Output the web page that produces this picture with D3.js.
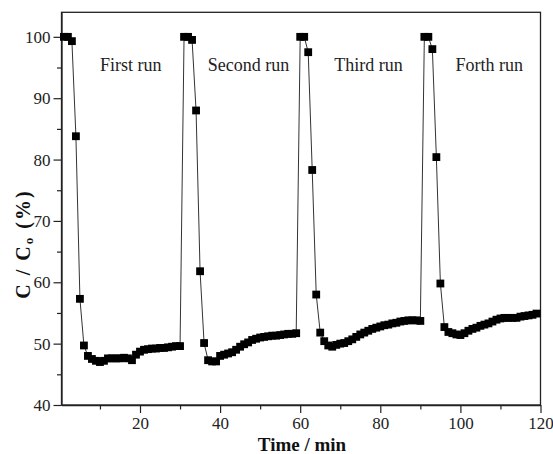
<!DOCTYPE html>
<html>
<head>
<meta charset="utf-8">
<script src="https://cdn.jsdelivr.net/npm/d3@7"></script>
<style>
  html, body { margin: 0; padding: 0; background: #fff; }
  svg { display: block; font-family: "Liberation Serif", "Times New Roman", serif; }
</style>
</head>
<body>
<div id="chart"></div>
<script>
// C/C0 (%) sampled every minute over four adsorption runs
var run1Start = 1;
var run1 = [100, 100, 99.3, 83.8, 57.3, 49.7, 48.0, 47.5, 47.2, 47.0, 47.2, 47.6, 47.6, 47.6, 47.6,
            47.7, 47.6, 47.3, 48.2, 48.7, 49.0, 49.1, 49.2, 49.2, 49.3, 49.3, 49.4, 49.5, 49.6, 49.6];
var run2Start = 31;
var run2 = [100, 100, 99.5, 88.0, 61.8, 50.1, 47.3, 47.1, 47.1, 48.0, 48.2, 48.4, 48.6, 49.0, 49.5,
            49.9, 50.2, 50.6, 50.8, 51.0, 51.1, 51.2, 51.3, 51.3, 51.4, 51.5, 51.6, 51.6, 51.7];
var run3Start = 60;
var run3 = [100, 100, 97.5, 78.3, 58.0, 51.8, 50.4, 49.7, 49.5, 49.8, 50.0, 50.1, 50.4, 50.7, 51.1,
            51.5, 51.8, 52.1, 52.4, 52.6, 52.8, 53.0, 53.1, 53.3, 53.4, 53.6, 53.7, 53.8, 53.8, 53.8, 53.7];
var run4Start = 91;
var run4 = [100, 100, 98.0, 80.4, 59.8, 52.7, 51.9, 51.7, 51.5, 51.4, 51.7, 52.1, 52.4, 52.6, 52.9,
            53.1, 53.3, 53.6, 53.9, 54.1, 54.2, 54.2, 54.2, 54.2, 54.4, 54.5, 54.6, 54.7, 54.9];
var runLabels = ["First run", "Second run", "Third run", "Forth run"];
var xTicks = [20, 40, 60, 80, 100, 120];
var xMinor = [10, 30, 50, 70, 90, 110];
var yTicks = [40, 50, 60, 70, 80, 90, 100];
var yMinor = [45, 55, 65, 75, 85, 95];

(function () {
  var W = 553, H = 454;
  var L = 61.5, R = 540.5, T = 12.3, B = 405;

  var svg = d3.select("#chart").append("svg").attr("width", W).attr("height", H);

  var x = d3.scaleLinear().domain([0.4, 120]).range([L, R]);
  var y = d3.scaleLinear().domain([40, 104]).range([B, T]);

  // flatten runs into one connected series (Origin joins the runs)
  var pts = [];
  [[run1Start, run1], [run2Start, run2], [run3Start, run3], [run4Start, run4]].forEach(function (r) {
    r[1].forEach(function (v, i) { pts.push({ t: r[0] + i, v: v }); });
  });

  // frame
  svg.append("rect")
    .attr("x", L).attr("y", T).attr("width", R - L).attr("height", B - T)
    .attr("fill", "none").attr("stroke", "#222").attr("stroke-width", 1.3);

  // axes: outward ticks, minor ticks shorter
  var gx = svg.append("g").attr("transform", "translate(0," + B + ")");
  gx.call(d3.axisBottom(x).tickValues(xTicks).tickSize(8).tickPadding(4).tickSizeOuter(0));
  svg.append("g").attr("transform", "translate(0," + B + ")")
    .call(d3.axisBottom(x).tickValues(xMinor).tickSize(4.5).tickFormat("").tickSizeOuter(0))
    .select(".domain").remove();

  var gy = svg.append("g").attr("transform", "translate(" + L + ",0)");
  gy.call(d3.axisLeft(y).tickValues(yTicks).tickSize(8).tickPadding(3).tickSizeOuter(0));
  svg.append("g").attr("transform", "translate(" + L + ",0)")
    .call(d3.axisLeft(y).tickValues(yMinor).tickSize(4.5).tickFormat("").tickSizeOuter(0))
    .select(".domain").remove();

  svg.selectAll(".domain").attr("stroke", "#222").attr("stroke-width", 1.3);
  svg.selectAll(".tick line").attr("stroke", "#222").attr("stroke-width", 1.2);
  svg.selectAll(".tick text")
    .attr("font-family", "Liberation Serif, serif")
    .attr("font-size", 17).attr("fill", "#222");

  // connecting line
  var line = d3.line().x(function (d) { return x(d.t); }).y(function (d) { return y(d.v); });
  svg.append("path").datum(pts)
    .attr("fill", "none").attr("stroke", "#333").attr("stroke-width", 1)
    .attr("d", line);

  // square markers
  var s = 7.8;
  svg.append("g").selectAll("rect").data(pts).enter().append("rect")
    .attr("x", function (d) { return x(d.t) - s / 2; })
    .attr("y", function (d) { return y(d.v) - s / 2; })
    .attr("width", s).attr("height", s)
    .attr("fill", "#000");

  // run annotations
  var labT = [10, 36.9, 68.5, 98.8];
  svg.append("g").selectAll("text").data(runLabels).enter().append("text")
    .attr("x", function (d, i) { return x(labT[i]); })
    .attr("y", y(94.4))
    .attr("font-size", 18).attr("fill", "#222")
    .text(function (d) { return d; });

  // axis titles
  svg.append("text")
    .attr("x", (L + R) / 2 + 1).attr("y", 451)
    .attr("text-anchor", "middle")
    .attr("font-size", 19).attr("font-weight", "bold").attr("fill", "#111")
    .text("Time / min");

  var yt = svg.append("text")
    .attr("transform", "translate(30,244) rotate(-90)")
    .attr("text-anchor", "middle")
    .attr("font-size", 20).attr("font-weight", "bold").attr("fill", "#111")
    .style("letter-spacing", "2px");
  yt.append("tspan").text("C / C");
  yt.append("tspan").attr("font-size", 13).attr("dy", 3).text("o");
  yt.append("tspan").attr("dy", -3).text(" (%)");
})();
</script>
</body>
</html>
